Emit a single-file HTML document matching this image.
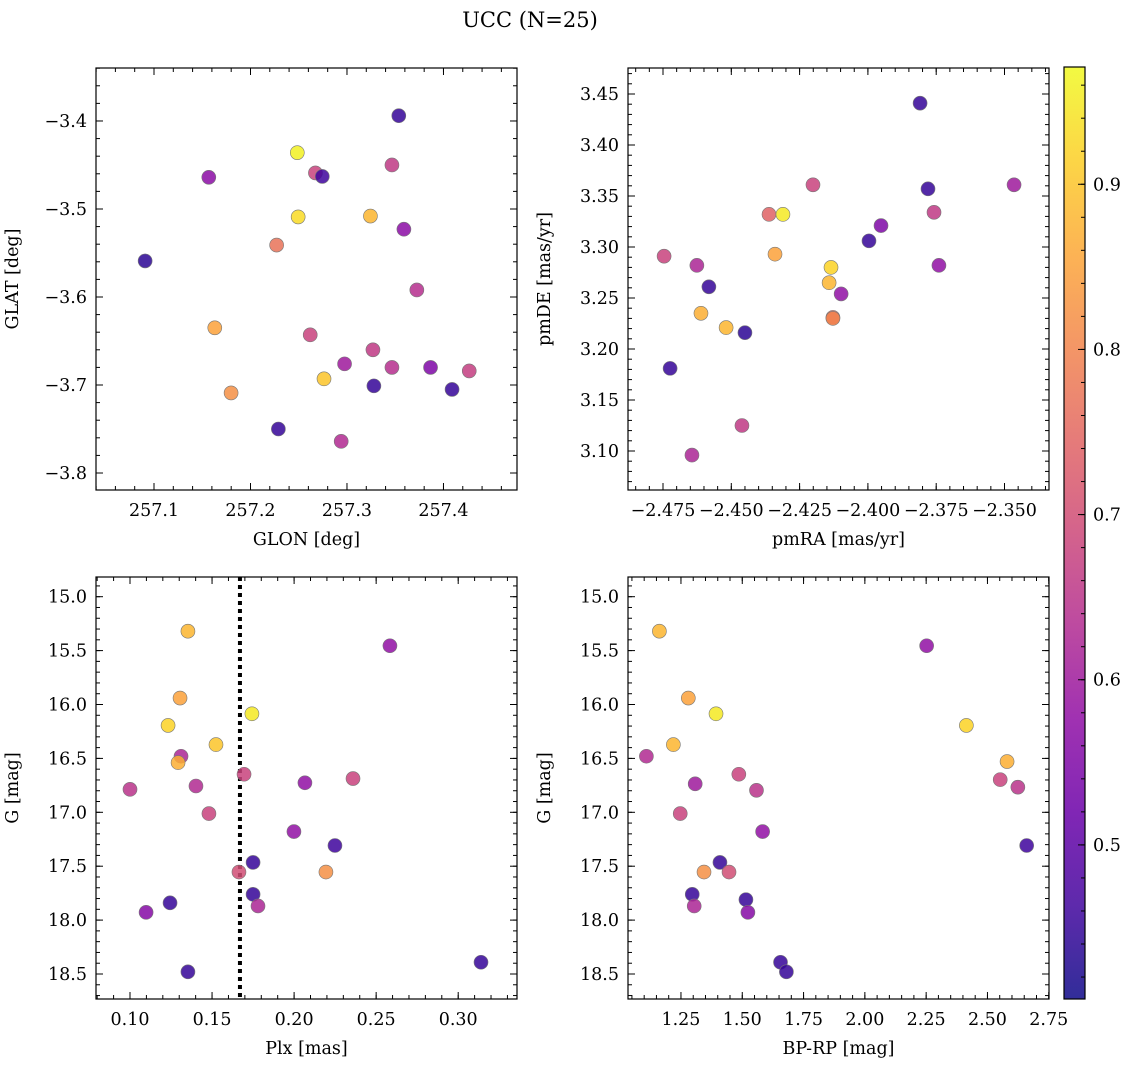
<!DOCTYPE html>
<html><head><meta charset="utf-8"><style>
html,body{margin:0;padding:0;background:#fff;}
svg{display:block;font-family:"DejaVu Serif","Liberation Serif",serif;}
</style></head><body>
<svg id="fig" width="1136" height="1067" viewBox="0 0 1136 1067" xmlns="http://www.w3.org/2000/svg">
<text x="530" y="27" font-size="21" text-anchor="middle">UCC (N=25)</text>
</svg>
<script>
// Panel 1: GLON/GLAT
const glon=[257.3537,257.1568,257.2485,257.2673,257.2744,257.3466,257.0908,257.2494,257.3243,257.359,257.2271,257.3724,257.163,257.2619,257.3269,257.2975,257.2762,257.3279,257.3466,257.3866,257.4089,257.4267,257.1799,257.2289,257.294];
const glat=[-3.394,-3.464,-3.436,-3.459,-3.463,-3.450,-3.559,-3.509,-3.508,-3.523,-3.541,-3.592,-3.635,-3.643,-3.660,-3.676,-3.693,-3.701,-3.680,-3.680,-3.705,-3.684,-3.709,-3.750,-3.764];
const prob1=[0.45,0.57,0.96,0.68,0.46,0.66,0.44,0.93,0.88,0.57,0.77,0.64,0.85,0.68,0.66,0.60,0.90,0.45,0.64,0.55,0.45,0.67,0.82,0.45,0.63];
// Panel 2: pmRA/pmDE
const pmra=[-2.3809,-2.378,-2.3465,-2.4201,-2.4362,-2.4311,-2.3758,-2.3952,-2.3996,-2.434,-2.4746,-2.4626,-2.374,-2.4135,-2.4142,-2.4582,-2.4098,-2.4611,-2.4128,-2.4128,-2.4519,-2.445,-2.4724,-2.4461,-2.4644];
const pmde=[3.441,3.357,3.361,3.361,3.332,3.332,3.334,3.321,3.306,3.293,3.291,3.282,3.282,3.280,3.265,3.261,3.254,3.235,3.231,3.230,3.221,3.216,3.181,3.125,3.096];
const prob2=[0.45,0.45,0.60,0.68,0.74,0.95,0.66,0.55,0.45,0.85,0.68,0.62,0.58,0.92,0.88,0.45,0.58,0.87,0.76,0.80,0.88,0.44,0.45,0.66,0.62];
// Panel 3: Plx/G
const plx=[0.2584,0.1353,0.1305,0.1743,0.1232,0.1524,0.1311,0.1293,0.1695,0.1402,0.2066,0.2359,0.100,0.1481,0.1999,0.2249,0.175,0.1664,0.2194,0.175,0.178,0.1244,0.1098,0.1353,0.3139];
const gmag3=[15.455,15.32,15.94,16.086,16.194,16.372,16.48,16.539,16.647,16.756,16.726,16.687,16.787,17.012,17.179,17.308,17.465,17.554,17.554,17.761,17.869,17.84,17.928,18.48,18.391];
const prob3=[0.58,0.88,0.85,0.95,0.92,0.90,0.62,0.87,0.68,0.63,0.58,0.68,0.65,0.68,0.58,0.46,0.45,0.70,0.82,0.45,0.62,0.45,0.56,0.45,0.45];
// Panel 4: BP-RP/G
const bprp=[1.162,2.252,1.280,1.393,2.414,1.219,2.580,1.109,1.308,2.552,2.624,1.486,1.558,1.247,1.583,2.660,1.409,1.344,1.446,1.296,1.515,1.304,1.523,1.656,1.680];
const gmag4=[15.32,15.455,15.94,16.086,16.194,16.372,16.529,16.48,16.736,16.697,16.767,16.647,16.796,17.012,17.179,17.308,17.465,17.554,17.554,17.761,17.81,17.869,17.928,18.391,18.48];
const prob4=[0.88,0.58,0.85,0.95,0.92,0.88,0.87,0.63,0.60,0.68,0.65,0.68,0.65,0.68,0.58,0.46,0.45,0.82,0.70,0.45,0.45,0.62,0.56,0.45,0.45];
const plxLine=0.167;
const cbTicks=[0.5,0.6,0.7,0.8,0.9];

const NS='http://www.w3.org/2000/svg';
const svg=document.getElementById('fig');
const PMIN=0.4067,PMAX=0.971;
const stops=[[13,8,135],[65,4,157],[106,0,168],[143,13,164],[177,42,144],[204,71,120],[225,100,98],[242,132,75],[252,166,54],[252,206,37],[240,249,33]];
function plasma(t){t=Math.max(0,Math.min(1,t));const s=t*10,i=Math.min(9,Math.floor(s)),f=s-i;const a=stops[i],b=stops[i+1];
 return 'rgb('+a.map((v,k)=>Math.round(v+(b[k]-v)*f)).join(',')+')';}
function el(tag,attrs,parent){const e=document.createElementNS(NS,tag);for(const k in attrs)e.setAttribute(k,attrs[k]);(parent||svg).appendChild(e);return e;}
function fmt(v,d){let s=v.toFixed(d);return s.replace('-','\u2212');}
const FS=17.5;

function panel(o){
 const g=el('g',{});
 
 
 const sx=v=>o.x0+(v-o.xmin)/(o.xmax-o.xmin)*(o.x1-o.x0);
 const sy=o.yinv?(v=>o.y0+(v-o.ymin)/(o.ymax-o.ymin)*(o.y1-o.y0)):(v=>o.y1-(v-o.ymin)/(o.ymax-o.ymin)*(o.y1-o.y0));
 const tg=el('g',{stroke:'#000','stroke-width':1},g);
 for(let v=Math.ceil(o.xmin/o.xminor-1e-9)*o.xminor;v<=o.xmax+1e-9;v+=o.xminor){const x=sx(v);el('line',{x1:x,x2:x,y1:o.y1,y2:o.y1-4},tg);el('line',{x1:x,x2:x,y1:o.y0,y2:o.y0+4},tg);}
 for(let v=Math.ceil(o.ymin/o.yminor-1e-9)*o.yminor;v<=o.ymax+1e-9;v+=o.yminor){const y=sy(v);el('line',{y1:y,y2:y,x1:o.x0,x2:o.x0+4},tg);el('line',{y1:y,y2:y,x1:o.x1,x2:o.x1-4},tg);}
 o.xticks.forEach(v=>{const x=sx(v);el('line',{x1:x,x2:x,y1:o.y1,y2:o.y1-7},tg);el('line',{x1:x,x2:x,y1:o.y0,y2:o.y0+7},tg);
  const t=el('text',{x:x,y:o.y1+26,'font-size':FS,'text-anchor':'middle'},g);t.textContent=fmt(v,o.xd);
  
  });
 o.yticks.forEach(v=>{const y=sy(v);el('line',{y1:y,y2:y,x1:o.x0,x2:o.x0+7},tg);el('line',{y1:y,y2:y,x1:o.x1,x2:o.x1-7},tg);
  const t=el('text',{x:o.x0-9,y:y+6,'font-size':FS,'text-anchor':'end'},g);t.textContent=fmt(v,o.yd);
  
  });
 if(o.vline!==undefined){const l=el('line',{x1:sx(o.vline),x2:sx(o.vline),y1:o.y0,y2:o.y1,stroke:'#000','stroke-width':4,'stroke-dasharray':'4,4'},g);
  
  }
 o.xs.forEach((v,i)=>{const c=el('circle',{cx:sx(v),cy:sy(o.ys[i]),r:7,fill:plasma((o.ps[i]-PMIN)/(PMAX-PMIN)),'fill-opacity':0.85,stroke:'#777','stroke-width':0.6},g);
  
  });
 const f=el('rect',{x:o.x0,y:o.y0,width:o.x1-o.x0,height:o.y1-o.y0,fill:'none',stroke:'#000','stroke-width':1.2},g);
 
 
 const xl=el('text',{x:(o.x0+o.x1)/2,y:o.y1+55,'font-size':FS,'text-anchor':'middle'},g);xl.textContent=o.xlabel;
 
 
 const yx=o.x0-78,yy=(o.y0+o.y1)/2;
 const yl=el('text',{x:yx,y:yy,'font-size':FS,'text-anchor':'middle',transform:'rotate(-90 '+yx+' '+yy+')'},g);yl.textContent=o.ylabel;
 
 
}
const r=(a,b,s)=>{const o=[];for(let v=a;v<=b+1e-9;v+=s)o.push(+v.toFixed(4));return o;};
const GMIN=15-19.7/107.8,GMAX=15+402.3/107.8;
panel({name:'glon-glat-panel',x0:96,x1:517,y0:68,y1:490,xmin:257.0399,xmax:257.4762,ymin:-3.8193,ymax:-3.3398,xminor:0.02,yminor:0.02,
 xticks:r(257.1,257.4,0.1),yticks:[-3.8,-3.7,-3.6,-3.5,-3.4],xd:1,yd:1,xs:glon,ys:glat,ps:prob1,xlabel:'GLON [deg]',ylabel:'GLAT [deg]'});
panel({name:'pm-panel',x0:628,x1:1049,y0:68,y1:490,xmin:-2.475-35/2732,xmax:-2.475+386/2732,ymin:3.10-39/1020,ymax:3.45+26/1020,xminor:0.005,yminor:0.01,
 xticks:[-2.475,-2.45,-2.425,-2.4,-2.375,-2.35],yticks:r(3.10,3.45,0.05),xd:3,yd:2,xs:pmra,ys:pmde,ps:prob2,xlabel:'pmRA [mas/yr]',ylabel:'pmDE [mas/yr]'});
panel({name:'plx-g-panel',x0:96,x1:517,y0:577,y1:999,xmin:0.10-34/1641,xmax:0.10+387/1641,ymin:GMIN,ymax:GMAX,yinv:true,xminor:0.01,yminor:0.1,
 xticks:r(0.10,0.30,0.05),yticks:r(15,18.5,0.5),xd:2,yd:1,xs:plx,ys:gmag3,ps:prob3,vline:plxLine,xlabel:'Plx [mas]',ylabel:'G [mag]'});
panel({name:'color-g-panel',x0:628,x1:1049,y0:577,y1:999,xmin:1.034,xmax:2.751,ymin:GMIN,ymax:GMAX,yinv:true,xminor:0.05,yminor:0.1,
 xticks:r(1.25,2.75,0.25),yticks:r(15,18.5,0.5),xd:2,yd:1,xs:bprp,ys:gmag4,ps:prob4,xlabel:'BP-RP [mag]',ylabel:'G [mag]'});

const cb=el('g',{});


const defs=el('defs',{},cb);
const lg=el('linearGradient',{id:'pl',x1:0,y1:1,x2:0,y2:0},defs);
for(let i=0;i<=10;i++)el('stop',{offset:i/10,'stop-color':plasma(i/10),'stop-opacity':0.85},lg);
const cx0=1064,cx1=1085,cy0=67,cy1=999;
el('rect',{x:cx0,y:cy0,width:cx1-cx0,height:cy1-cy0,fill:'url(#pl)',stroke:'#000','stroke-width':1.2},cb);
const cy=v=>cy1-(v-PMIN)/(PMAX-PMIN)*(cy1-cy0);
for(let v=0.42;v<=0.97;v+=0.02){const y=cy(v);el('line',{x1:cx1,x2:cx1-4,y1:y,y2:y,stroke:'#000'},cb);}
cbTicks.forEach(v=>{const y=cy(v);el('line',{x1:cx1,x2:cx1-7,y1:y,y2:y,stroke:'#000'},cb);
 const t=el('text',{x:cx1+8,y:y+6,'font-size':FS},cb);t.textContent=v.toFixed(1);
 
 });
</script>
</body></html>
